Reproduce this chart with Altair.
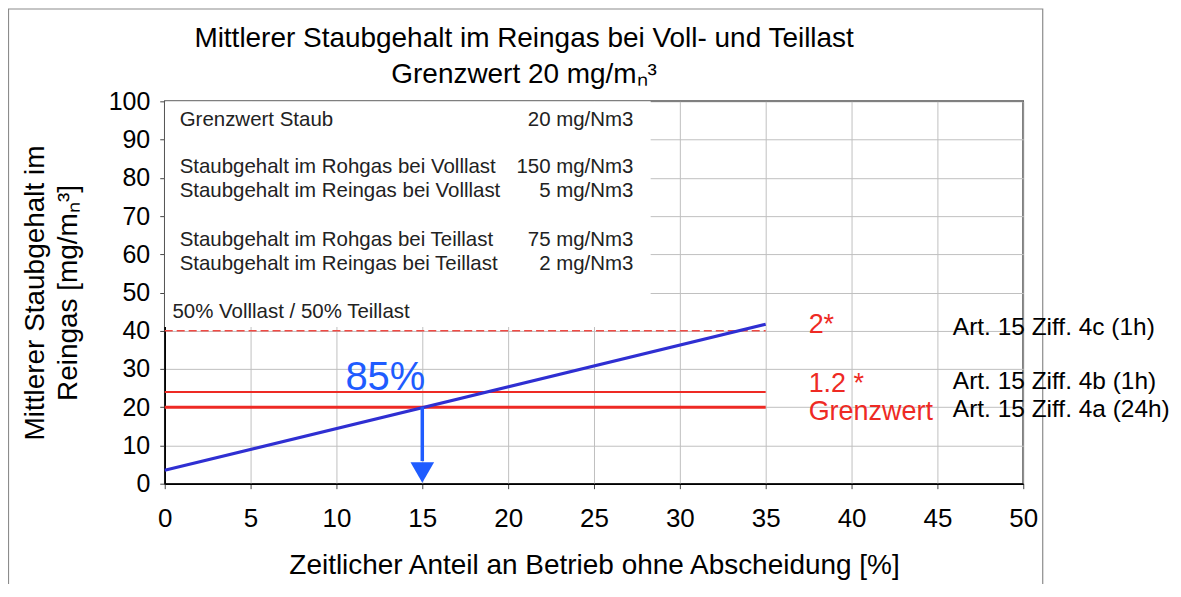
import altair as alt
import pandas as pd

# ---- data ----
line_x = [0, 35]
line_y = [3.5, 41.7]

limit_values = [20, 24, 40]
limit_names = ["Grenzwert", "1.2 *", "2*"]
limit_x_end = 35

arrow_x = 15
arrow_top = 20
arrow_bottom = 2.9

legend_labels = [
    "Grenzwert Staub",
    "Staubgehalt im Rohgas bei Volllast",
    "Staubgehalt im Reingas bei Volllast",
    "Staubgehalt im Rohgas bei Teillast",
    "Staubgehalt im Reingas bei Teillast",
]
legend_values = ["20 mg/Nm3", "150 mg/Nm3", "5 mg/Nm3", "75 mg/Nm3", "2 mg/Nm3"]
legend_note = "50% Volllast / 50% Teillast"
legend_label_y = [95, 82.8, 76.5, 63.7, 57.4]

red_labels = ["2*", "1.2 *", "Grenzwert"]
red_label_y = [41.5, 26.0, 18.8]

art_labels = ["Art. 15 Ziff. 4c (1h)", "Art. 15 Ziff. 4b (1h)", "Art. 15 Ziff. 4a (24h)"]
art_label_y = [40.7, 26.6, 19.3]

pct_label = "85%"

title_lines = ["Mittlerer Staubgehalt im Reingas bei Voll- und Teillast", "Grenzwert 20 mg/mₙ³"]
title_y = [116.4, 106.8]

x_ticks = [0, 5, 10, 15, 20, 25, 30, 35, 40, 45, 50]
y_ticks = [0, 10, 20, 30, 40, 50, 60, 70, 80, 90, 100]

FONT = "Liberation Sans"
RED = "#ee2a24"
BLUE_LINE = "#2f2fd2"
BLUE = "#1f5cff"

W, H = 860, 383

xs = alt.Scale(domain=[0, 50], nice=False)
ys = alt.Scale(domain=[0, 100], nice=False)
x_axis = alt.Axis(values=x_ticks, title="Zeitlicher Anteil an Betrieb ohne Abscheidung [%]",
                  grid=True, labelFlush=False, labelOverlap=False, tickCount=30)
y_axis = alt.Axis(values=y_ticks, title=["Mittlerer Staubgehalt im", "Reingas [mg/mₙ³]"],
                  grid=True, labelFlush=False, labelOverlap=False, tickCount=30)


def X(field):
    return alt.X(field, scale=xs, axis=x_axis)


def Y(field):
    return alt.Y(field, scale=ys, axis=y_axis)


base = alt.Chart(pd.DataFrame({"a": [0]}))

# outer frame of the image
frame = base.mark_rect(fillOpacity=0, stroke="#8c8c8c", strokeWidth=1.2).encode(
    x=alt.value(-156.5), x2=alt.value(879.5), y=alt.value(-92.5), y2=alt.value(620)
)

# white legend box
box = alt.Chart(pd.DataFrame({"x": [0], "x2": [28.3], "y": [41], "y2": [100]})).mark_rect(
    fill="white"
).encode(x=X("x:Q"), x2="x2:Q", y=Y("y:Q"), y2="y2:Q")

lim_df = pd.DataFrame({"y": limit_values, "name": limit_names, "x0": [0] * 3, "x1": [limit_x_end] * 3})
lim20 = alt.Chart(lim_df[lim_df.y == 20]).mark_rule(color=RED, strokeWidth=3).encode(
    x=X("x0:Q"), x2="x1:Q", y=Y("y:Q"))
lim24 = alt.Chart(lim_df[lim_df.y == 24]).mark_rule(color=RED, strokeWidth=2).encode(
    x=X("x0:Q"), x2="x1:Q", y=Y("y:Q"))
lim40 = alt.Chart(lim_df[lim_df.y == 40]).mark_rule(color="#f04a44", strokeWidth=1.5, strokeDash=[8, 4]).encode(
    x=X("x0:Q"), x2="x1:Q", y=Y("y:Q"))

line = alt.Chart(pd.DataFrame({"x": line_x, "y": line_y})).mark_line(
    color=BLUE_LINE, strokeWidth=3).encode(x=X("x:Q"), y=Y("y:Q"))

shaft = alt.Chart(pd.DataFrame({"x": [arrow_x], "y": [arrow_top], "y2": [arrow_bottom + 3]})).mark_rule(
    color=BLUE, strokeWidth=3.5).encode(x=X("x:Q"), y=Y("y:Q"), y2="y2:Q")
head = alt.Chart(pd.DataFrame({"x": [arrow_x], "y": [arrow_bottom]})).mark_point(
    shape="triangle-down", filled=True, color=BLUE, size=560, opacity=1).encode(
    x=X("x:Q"), y=Y("y:Q"))

pct = alt.Chart(pd.DataFrame({"x": [12.85], "y": [27.7], "t": [pct_label]})).mark_text(
    font=FONT, fontSize=40, color=BLUE, align="center", baseline="middle").encode(
    x=X("x:Q"), y=Y("y:Q"), text="t:N")

leg_l = alt.Chart(pd.DataFrame({"x": [0.87] * 5, "y": legend_label_y, "t": legend_labels})).mark_text(
    font=FONT, fontSize=20.5, color="#222222", align="left", baseline="middle").encode(
    x=X("x:Q"), y=Y("y:Q"), text="t:N")
leg_r = alt.Chart(pd.DataFrame({"x": [27.3] * 5, "y": legend_label_y, "t": legend_values})).mark_text(
    font=FONT, fontSize=20.5, color="#222222", align="right", baseline="middle").encode(
    x=X("x:Q"), y=Y("y:Q"), text="t:N")
leg_n = alt.Chart(pd.DataFrame({"x": [0.45], "y": [44.9], "t": [legend_note]})).mark_text(
    font=FONT, fontSize=20.5, color="#222222", align="left", baseline="middle").encode(
    x=X("x:Q"), y=Y("y:Q"), text="t:N")

red_txt = alt.Chart(pd.DataFrame({"x": [37.5] * 3, "y": red_label_y, "t": red_labels})).mark_text(
    font=FONT, fontSize=27, color=RED, align="left", baseline="middle").encode(
    x=X("x:Q"), y=Y("y:Q"), text="t:N")

art_txt = alt.Chart(pd.DataFrame({"x": [45.9] * 3, "y": art_label_y, "t": art_labels})).mark_text(
    font=FONT, fontSize=24.5, color="black", align="left", baseline="middle").encode(
    x=X("x:Q"), y=Y("y:Q"), text="t:N")

title_txt = alt.Chart(pd.DataFrame({"x": [20.93] * 2, "y": title_y, "t": title_lines})).mark_text(
    font=FONT, fontSize=28, color="black", align="center", baseline="middle").encode(
    x=X("x:Q"), y=Y("y:Q"), text="t:N")

chart = alt.layer(
    frame, box, lim40, lim24, lim20, line, shaft, head, pct, leg_l, leg_r, leg_n, red_txt, art_txt,
    title_txt
).properties(
    width=W, height=H,
    autosize=alt.AutoSizeParams(type="none"),
    padding={"left": 157, "top": 93, "right": 150, "bottom": 100},
).configure_view(
    stroke="black", strokeWidth=1.5
).configure_axis(
    labelFont=FONT, titleFont=FONT, labelColor="black", titleColor="black",
    titleFontWeight="normal", gridColor="#c0c0c0", gridWidth=1,
    domainColor="black", domainWidth=1.5, tickColor="#444444", tickSize=5,
).configure_axisX(
    labelFontSize=26, labelPadding=17, titleFontSize=28, titlePadding=20,
).configure_axisY(
    labelFontSize=25, labelPadding=10, titleFontSize=28, titlePadding=26, titleLineHeight=33,
)

chart.save("out.html", embed_options={"renderer": "svg", "actions": False})
